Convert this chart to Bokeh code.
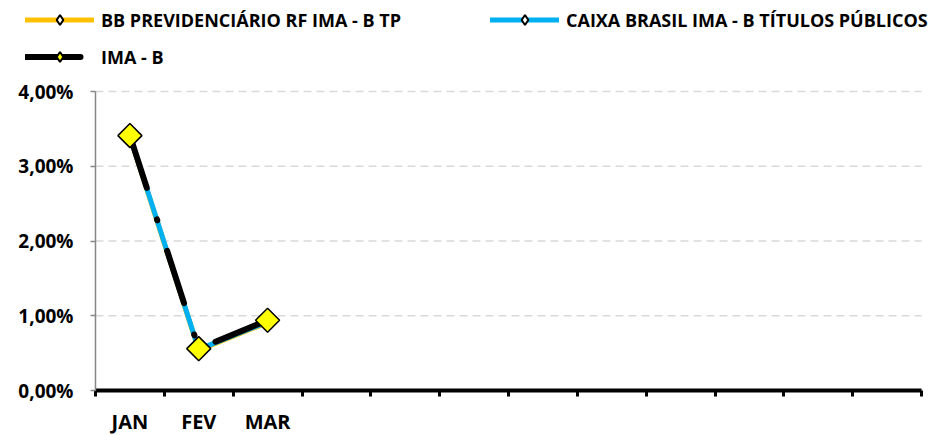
import math
from bokeh.plotting import figure
from bokeh.models import Range1d, FixedTicker, Legend, LegendItem
from bokeh.embed import file_html
from bokeh.resources import INLINE

# ---- data ----
months = ["JAN", "FEV", "MAR"]
n_slots = 12
bb_prev = [3.39, 0.54, 0.91]
caixa = [3.40, 0.55, 0.92]
ima_b = [3.41, 0.56, 0.94]
y_ticks = [0, 1, 2, 3, 4]
y_labels = ["0,00%", "1,00%", "2,00%", "3,00%", "4,00%"]
names = ["BB PREVIDENCIÁRIO RF IMA - B TP", "CAIXA BRASIL IMA - B TÍTULOS PÚBLICOS", "IMA - B"]

FONT = "Open Sans"
xs = [i + 0.5 for i in range(len(months))]
centers = [i + 0.5 for i in range(n_slots)]

# ---- layout (pixels) ----
W, H = 934, 434
AX_LEFT, AX_RIGHT = 95, 921      # where x = 0 and x = n_slots fall
Y_TOP_PX, Y_BOT_PX = 91, 390     # where y = 4 and y = 0 fall
y_max = y_ticks[-1]
px_x = (AX_RIGHT - AX_LEFT) / n_slots
px_y = (Y_BOT_PX - Y_TOP_PX) / y_max

p = figure(width=W, height=H, output_backend="svg", toolbar_location=None,
           x_range=Range1d(-AX_LEFT / px_x, n_slots + (W - AX_RIGHT) / px_x),
           y_range=Range1d(-(H - Y_BOT_PX) / px_y, y_max + Y_TOP_PX / px_y),
           min_border_left=0, min_border_right=0, min_border_top=0, min_border_bottom=0)
p.outline_line_color = None
p.xgrid.grid_line_color = None
p.ygrid.grid_line_color = None

# dashed gridlines between the axes
gl = [t for t in y_ticks if t > 0]
p.segment(x0=[0] * len(gl), x1=[n_slots] * len(gl), y0=gl, y1=gl,
          line_color="#D9D9D9", line_width=1.5, line_dash="8 5")

# x axis
xa = p.xaxis[0]
xa.fixed_location = 0
xa.bounds = (0, n_slots)
xa.ticker = FixedTicker(ticks=centers, minor_ticks=list(range(n_slots + 1)))
ov = {c: "" for c in centers}
for c, m in zip(xs, months):
    ov[c] = m
xa.major_label_overrides = ov
xa.axis_line_color = "black"
xa.axis_line_width = 4
xa.major_tick_line_color = None
xa.major_tick_out = 0
xa.major_tick_in = 0
xa.minor_tick_line_color = "black"
xa.minor_tick_line_width = 3
xa.minor_tick_out = 6
xa.minor_tick_in = 0
xa.major_label_standoff = 11
xa.major_label_text_font = FONT
xa.major_label_text_font_style = "bold"
xa.major_label_text_font_size = "20px"
xa.major_label_text_color = "black"

# y axis
ya = p.yaxis[0]
ya.fixed_location = 0
ya.bounds = (0, y_max)
ya.ticker = FixedTicker(ticks=y_ticks)
ya.major_label_overrides = {t: l for t, l in zip(y_ticks, y_labels)}
ya.axis_line_color = "#868686"
ya.axis_line_width = 1.5
ya.major_tick_line_color = "#868686"
ya.major_tick_line_width = 1.5
ya.major_tick_out = 5
ya.major_tick_in = 0
ya.minor_tick_line_color = None
ya.major_label_standoff = 17
ya.major_label_text_font = FONT
ya.major_label_text_font_style = "bold"
ya.major_label_text_font_size = "19px"
ya.major_label_text_color = "black"

nan = float("nan")
diamond = dict(marker="square", angle=math.pi / 4)

# BB
r_bb = p.line(xs, bb_prev, line_color="#FFC000", line_width=5, line_join="round", line_cap="round")
p.scatter(xs, bb_prev, size=6, fill_color="white", line_color="black", line_width=2, **diamond)
d_bb = p.scatter([nan], [nan], marker="diamond", size=10, fill_color="white", line_color="black", line_width=2)
# Caixa
r_cx = p.line(xs, caixa, line_color="#00B0F0", line_width=5, line_join="round", line_cap="round")
p.scatter(xs, caixa, size=6, fill_color="white", line_color="black", line_width=2, **diamond)
d_cx = p.scatter([nan], [nan], marker="diamond", size=10, fill_color="white", line_color="black", line_width=2)
# IMA-B
r_im = p.line(xs, ima_b, line_color="black", line_width=6, line_join="round", line_cap="round",
              line_dash="55 33 1 32")
p.scatter(xs, ima_b, size=17, fill_color="#FFFF00", line_color="black", line_width=1.5, **diamond)
d_im = p.scatter([nan], [nan], marker="diamond", size=10, fill_color="#FFFF00", line_color="black", line_width=2)


def add_leg(label, rends, loc):
    leg = Legend(items=[LegendItem(label=label, renderers=rends)], location=loc,
                 orientation="horizontal", padding=0, margin=0, spacing=0,
                 glyph_width=69, glyph_height=25, label_height=25, label_standoff=7,
                 label_text_font=FONT, label_text_font_style="bold",
                 label_text_font_size="18px", label_text_color="black",
                 border_line_color=None, background_fill_alpha=0)
    p.add_layout(leg, "center")


ROW1_BOTTOM, ROW2_BOTTOM = 32, 69
add_leg(names[0], [r_bb, d_bb], (25, H - ROW1_BOTTOM))
add_leg(names[1], [r_cx, d_cx], (490, H - ROW1_BOTTOM))
add_leg(names[2], [r_im, d_im], (25, H - ROW2_BOTTOM))

open("out.html", "w").write(file_html(p, INLINE))
